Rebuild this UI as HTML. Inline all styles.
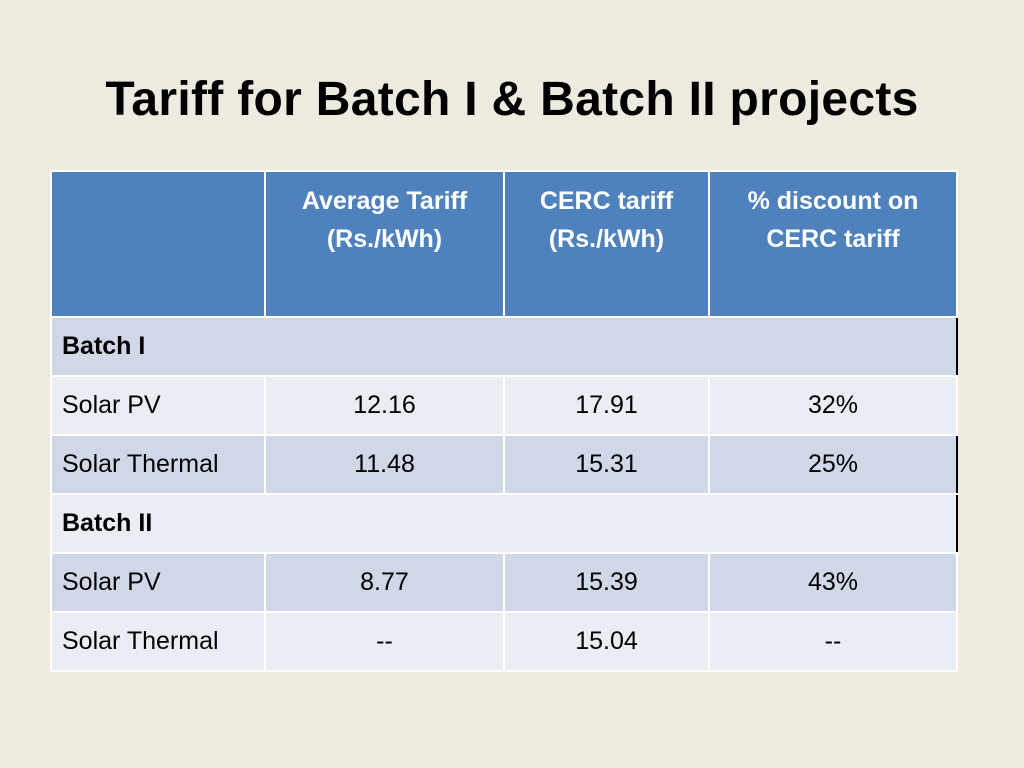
<!DOCTYPE html>
<html><head><meta charset="utf-8"><style>
body{margin:0;width:1024px;height:768px;background:#EDEAE0;font-family:"Liberation Sans",sans-serif;position:relative;overflow:hidden}
h1{position:absolute;top:70px;left:0;width:1024px;text-align:center;margin:0;font-size:48px;line-height:60px;font-weight:bold;color:#000;letter-spacing:0.3px}
table{position:absolute;left:50px;top:170px;border-collapse:collapse;table-layout:fixed}
td{border:2px solid #fff;font-size:25px;color:#000;padding:0 10px;box-sizing:border-box}
td.c{text-align:center}
tr.h td{background:#4F81BD;color:#fff;font-weight:bold;vertical-align:top;text-align:center;padding-top:10px;line-height:38px;font-size:25px}
tr.d td{background:#D0D8E8}
tr.l td{background:#E9EDF4}
tr.r td{height:59px}
</style></head><body>
<h1>Tariff for Batch I &amp; Batch II projects</h1>
<table>
<colgroup><col style="width:214px"><col style="width:239px"><col style="width:205px"><col style="width:248px"></colgroup>
<tr class="h" style="height:146px"><td></td><td>Average Tariff<br>(Rs./kWh)</td><td>CERC tariff<br>(Rs./kWh)</td><td>% discount on<br>CERC tariff</td></tr>
<tr class="d r"><td colspan="4" style="font-weight:bold;border-right:2px solid #000">Batch I</td></tr>
<tr class="l r"><td>Solar PV</td><td class="c">12.16</td><td class="c">17.91</td><td class="c">32%</td></tr>
<tr class="d r"><td>Solar Thermal</td><td class="c">11.48</td><td class="c">15.31</td><td class="c" style="border-right:2px solid #000">25%</td></tr>
<tr class="l r"><td colspan="4" style="font-weight:bold;border-right:2px solid #000">Batch II</td></tr>
<tr class="d r"><td>Solar PV</td><td class="c">8.77</td><td class="c">15.39</td><td class="c">43%</td></tr>
<tr class="l r"><td>Solar Thermal</td><td class="c">--</td><td class="c">15.04</td><td class="c">--</td></tr>
</table>
</body></html>
